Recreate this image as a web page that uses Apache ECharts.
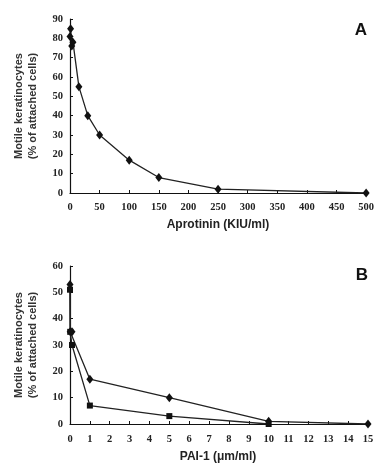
<!DOCTYPE html>
<html><head><meta charset="utf-8">
<script src="https://cdn.jsdelivr.net/npm/echarts@6/dist/echarts.min.js"></script>
<style>html,body{margin:0;padding:0;background:#fff}#c{width:377px;height:464px}</style>
</head><body><div id="c"></div>
<script>
// Panel A: Aprotinin
const aprotininX = [0, 1, 3, 5, 15, 30, 50, 100, 150, 250, 500];
const aprotininY = [81, 85, 76, 78, 55, 40, 30, 17, 8, 2, 0];
const aXTicks = [0, 50, 100, 150, 200, 250, 300, 350, 400, 450, 500];
const aYTicks = [0, 10, 20, 30, 40, 50, 60, 70, 80, 90];
// Panel B: PAI-1
const paiDiamondX = [0, 0.01, 0.1, 1, 5, 10, 15];
const paiDiamondY = [53, 35, 35, 17, 10, 1, 0];
const paiSquareX = [0, 0.01, 0.1, 1, 5, 10];
const paiSquareY = [51, 35, 30, 7, 3, 0];
const bYTicks = [0, 10, 20, 30, 40, 50, 60];

const zip = (xs, ys) => xs.map((x, i) => [x, ys[i]]);
const tickFont = {fontFamily: 'Liberation Serif', fontWeight: 'bold', fontSize: 10.5, color: '#222'};
const axisLine = {lineStyle: {color: '#111', width: 1.2}};
const axisTick = {inside: true, length: 3, lineStyle: {color: '#111'}};

const chart = echarts.init(document.getElementById('c'));
chart.setOption({
  animation: false,
  backgroundColor: '#fff',
  grid: [
    {left: 70, top: 19, width: 298, height: 174},
    {left: 70, top: 266, width: 298, height: 158}
  ],
  xAxis: [
    {gridIndex: 0, type: 'value', min: 0, max: 500, interval: 50,
     axisLine, axisTick, splitLine: {show: false}, axisLabel: {...tickFont, margin: 9}},
    {gridIndex: 1, type: 'value', min: 0, max: 15, interval: 1,
     axisLine, axisTick, splitLine: {show: false}, axisLabel: {...tickFont, margin: 10}}
  ],
  yAxis: [
    {gridIndex: 0, type: 'value', min: 0, max: 90, interval: 10,
     axisLine: {show: true, ...axisLine}, axisTick: {show: true, inside: true, length: 3, lineStyle: {color: '#111'}},
     splitLine: {show: false}, axisLabel: {...tickFont, margin: 7}},
    {gridIndex: 1, type: 'value', min: 0, max: 60, interval: 10,
     axisLine: {show: true, ...axisLine}, axisTick: {show: true, inside: true, length: 3, lineStyle: {color: '#111'}},
     splitLine: {show: false}, axisLabel: {...tickFont, margin: 7}}
  ],
  series: [
    {type: 'line', xAxisIndex: 0, yAxisIndex: 0, data: zip(aprotininX, aprotininY),
     symbol: 'diamond', symbolSize: [7, 9], itemStyle: {color: '#111'},
     lineStyle: {color: '#222', width: 1.3}},
    {type: 'line', xAxisIndex: 1, yAxisIndex: 1, data: zip(paiDiamondX, paiDiamondY),
     symbol: 'diamond', symbolSize: [7, 9], itemStyle: {color: '#111'},
     lineStyle: {color: '#222', width: 1.3}},
    {type: 'line', xAxisIndex: 1, yAxisIndex: 1, data: zip(paiSquareX, paiSquareY),
     symbol: 'rect', symbolSize: 6, itemStyle: {color: '#111'},
     lineStyle: {color: '#222', width: 1.3}}
  ],
  graphic: [
    {type: 'text', x: 19, y: 106, rotation: Math.PI / 2, style: {text: 'Motile keratinocytes', font: 'bold 11px "Liberation Sans"', fill: '#333', align: 'center', verticalAlign: 'middle'}},
    {type: 'text', x: 33, y: 106, rotation: Math.PI / 2, style: {text: '(% of attached cells)', font: 'bold 11px "Liberation Sans"', fill: '#333', align: 'center', verticalAlign: 'middle'}},
    {type: 'text', x: 218, y: 225, style: {text: 'Aprotinin (KIU/ml)', font: 'bold 12px "Liberation Sans"', fill: '#222', align: 'center', verticalAlign: 'middle'}},
    {type: 'text', x: 361, y: 30, style: {text: 'A', font: 'bold 17px "Liberation Sans"', fill: '#111', align: 'center', verticalAlign: 'middle'}},
    {type: 'text', x: 19, y: 345, rotation: Math.PI / 2, style: {text: 'Motile keratinocytes', font: 'bold 11px "Liberation Sans"', fill: '#333', align: 'center', verticalAlign: 'middle'}},
    {type: 'text', x: 33, y: 345, rotation: Math.PI / 2, style: {text: '(% of attached cells)', font: 'bold 11px "Liberation Sans"', fill: '#333', align: 'center', verticalAlign: 'middle'}},
    {type: 'text', x: 218, y: 457, style: {text: 'PAI-1 (μm/ml)', font: 'bold 12px "Liberation Sans"', fill: '#222', align: 'center', verticalAlign: 'middle'}},
    {type: 'text', x: 362, y: 275, style: {text: 'B', font: 'bold 17px "Liberation Sans"', fill: '#111', align: 'center', verticalAlign: 'middle'}}
  ]
});
</script></body></html>
